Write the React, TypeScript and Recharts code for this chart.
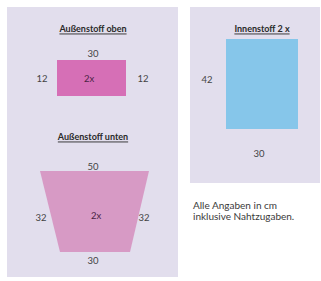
import React from "react";
import { ComposedChart, XAxis, YAxis, Area, ReferenceArea, ReferenceDot } from "recharts";

// diagram units (1 unit = 1 px of the 321x281 canvas)
const panels = [
  { id: "left", x1: 7, x2: 178, y1: 7, y2: 277 },
  { id: "right", x1: 190, x2: 320, y1: 7, y2: 183 },
];
const pieces = [
  { id: "oben", x1: 57, x2: 126, y1: 60, y2: 96, fill: "#D66FB6" },
  { id: "innen", x1: 226, x2: 298, y1: 39, y2: 129, fill: "#86C6EA" },
];
// trapezoid "Außenstoff unten" as a range area (top edge / lower edge)
const trapezoid = [
  { x: 40, range: [171, 171] },
  { x: 60, range: [171, 252] },
  { x: 130, range: [171, 252] },
  { x: 149, range: [171, 171] },
];
const titles = [
  { text: "Außenstoff oben", x: 93, y: 28 },
  { text: "Außenstoff unten", x: 93, y: 136 },
  { text: "Innenstoff 2 x", x: 262, y: 28 },
];
const dims = [
  { text: "30", x: 93, y: 53 },
  { text: "12", x: 42, y: 78 },
  { text: "12", x: 143, y: 78 },
  { text: "50", x: 93, y: 166 },
  { text: "32", x: 41, y: 217 },
  { text: "32", x: 144, y: 217 },
  { text: "30", x: 93, y: 260 },
  { text: "42", x: 207, y: 79 },
  { text: "30", x: 259, y: 153 },
];
const counts = [
  { text: "2x", x: 89, y: 78 },
  { text: "2x", x: 96, y: 215 },
];
const notes = [
  { text: "Alle Angaben in cm", x: 193, y: 205 },
  { text: "inklusive Nahtzugaben.", x: 193, y: 216 },
];

const FONT = "Lato, 'Open Sans', sans-serif";

const makeText = (text: string, style: any, anchor: string = "middle") => (props: any) => (
  <text
    x={props.cx}
    y={props.cy}
    textAnchor={anchor}
    dominantBaseline="central"
    fontFamily={FONT}
    {...style}
  >
    {text}
  </text>
);

export default function App() {
  return (
    <div style={{ position: "fixed", left: 0, top: 0, background: "#fff" }}>
      <ComposedChart width={321} height={281} data={trapezoid} margin={{ top: 0, right: 0, bottom: 0, left: 0 }}>
        <XAxis type="number" dataKey="x" domain={[0, 321]} hide allowDataOverflow />
        <YAxis type="number" domain={[0, 281]} reversed hide allowDataOverflow />
        {panels.map((p) => (
          <ReferenceArea key={p.id} x1={p.x1} x2={p.x2} y1={p.y1} y2={p.y2} fill="#E2DEED" fillOpacity={1} stroke="none" />
        ))}
        {pieces.map((p) => (
          <ReferenceArea key={p.id} x1={p.x1} x2={p.x2} y1={p.y1} y2={p.y2} fill={p.fill} fillOpacity={1} stroke="none" />
        ))}
        <Area type="linear" dataKey="range" fill="#D79AC5" fillOpacity={1} stroke="none" isAnimationActive={false} dot={false} activeDot={false} />
        {titles.map((t, i) => (
          <ReferenceDot key={"t" + i} x={t.x} y={t.y} r={0}
            shape={makeText(t.text, { fontSize: 9, fontWeight: 700, fill: "#2a2a2a", style: { textDecoration: "underline" } })} />
        ))}
        {dims.map((t, i) => (
          <ReferenceDot key={"d" + i} x={t.x} y={t.y} r={0}
            shape={makeText(t.text, { fontSize: 9.5, fill: "#444" })} />
        ))}
        {counts.map((t, i) => (
          <ReferenceDot key={"c" + i} x={t.x} y={t.y} r={0}
            shape={makeText(t.text, { fontSize: 9.5, fill: "#4a2444" })} />
        ))}
        {notes.map((t, i) => (
          <ReferenceDot key={"n" + i} x={t.x} y={t.y} r={0}
            shape={makeText(t.text, { fontSize: 10, fill: "#3a3a3a" }, "start")} />
        ))}
      </ComposedChart>
    </div>
  );
}
